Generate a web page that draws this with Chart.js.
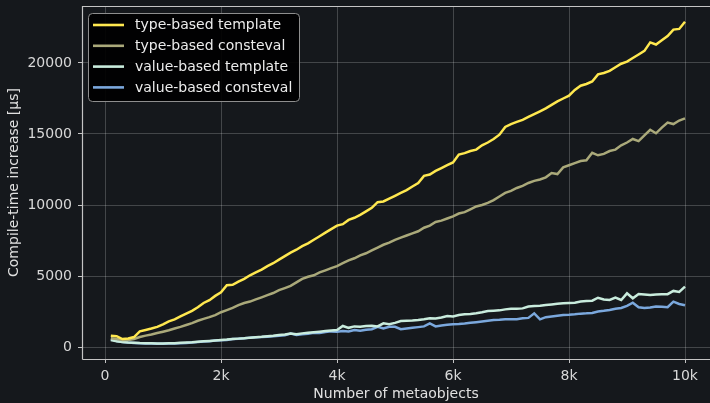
<!DOCTYPE html>
<html><head><meta charset="utf-8">
<script src="https://cdn.jsdelivr.net/npm/chart.js@4/dist/chart.umd.min.js"></script>
<style>html,body{margin:0;padding:0;background:#15181c;overflow:hidden}#wrap{width:710px;height:403px;position:relative}</style>
</head><body><div id="wrap"><canvas id="c" width="710" height="403"></canvas></div>
<script>
const metaobjects = [100,200,300,400,500,600,700,800,900,1000,1100,1200,1300,1400,1500,1600,1700,1800,1900,2000,
2100,2200,2300,2400,2500,2600,2700,2800,2900,3000,3100,3200,3300,3400,3500,3600,3700,3800,3900,4000,
4100,4200,4300,4400,4500,4600,4700,4800,4900,5000,5100,5200,5300,5400,5500,5600,5700,5800,5900,6000,
6100,6200,6300,6400,6500,6600,6700,6800,6900,7000,7100,7200,7300,7400,7500,7600,7700,7800,7900,8000,
8100,8200,8300,8400,8500,8600,8700,8800,8900,9000,9100,9200,9300,9400,9500,9600,9700,9800,9900,10000];

const typeTemplate = [800,760,560,600,700,1100,1200,1300,1420,1600,1800,1950,2150,2350,2550,2800,3100,3300,3600,3850,
4350,4380,4600,4800,5050,5250,5450,5700,5900,6150,6400,6650,6850,7100,7300,7550,7800,8050,8300,8550,
8650,8950,9100,9300,9550,9800,10200,10250,10450,10650,10850,11050,11300,11550,12050,12150,12400,12600,12800,13000,
13550,13650,13800,13900,14200,14400,14650,14950,15500,15700,15850,16000,16200,16400,16600,16800,17050,17300,17500,17700,
18100,18400,18520,18700,19200,19300,19450,19700,19950,20100,20350,20600,20850,21450,21300,21600,21900,22350,22400,22900];

const typeConsteval = [610,560,490,500,560,700,800,880,980,1080,1180,1300,1420,1550,1680,1850,1980,2100,2250,2450,
2600,2750,2950,3100,3200,3350,3500,3650,3800,4000,4150,4300,4550,4800,4950,5050,5250,5400,5550,5700,
5900,6100,6250,6450,6600,6800,7000,7200,7350,7550,7700,7850,8000,8150,8400,8550,8800,8900,9050,9200,
9400,9500,9700,9900,10000,10150,10350,10600,10850,11000,11200,11350,11550,11700,11800,11950,12250,12180,12650,12800,
12950,13100,13150,13680,13500,13600,13800,13900,14200,14400,14650,14500,14900,15300,15050,15450,15800,15700,15950,16100];

const valueTemplate = [490,400,350,320,300,280,270,260,250,250,260,270,300,320,340,370,400,430,460,490,
520,560,590,620,660,690,720,760,800,850,880,950,900,960,1000,1040,1080,1120,1160,1200,
1480,1350,1450,1420,1480,1500,1450,1670,1600,1700,1830,1850,1860,1900,1950,2020,2000,2080,2180,2150,
2250,2300,2320,2380,2450,2540,2560,2580,2650,2700,2700,2720,2850,2880,2900,2950,3000,3050,3080,3100,
3120,3200,3240,3260,3470,3350,3310,3480,3310,3780,3430,3730,3700,3660,3700,3720,3720,3950,3880,4250];

const valueConsteval = [560,420,350,310,290,270,250,240,230,230,240,250,270,290,320,350,380,410,450,480,
500,560,580,620,650,680,700,730,760,800,820,950,850,900,930,1000,980,1050,1100,1080,
1120,1100,1200,1150,1220,1250,1420,1300,1430,1420,1250,1300,1350,1400,1450,1660,1450,1520,1560,1600,
1620,1650,1700,1750,1800,1850,1900,1920,1950,1950,1960,2020,2050,2370,1950,2100,2150,2200,2250,2270,
2300,2350,2370,2400,2500,2550,2610,2700,2750,2900,3120,2800,2750,2780,2850,2840,2800,3190,3030,2940];

const seriesLabels = ['type-based template','type-based consteval','value-based template','value-based consteval'];
const xTickValues = [0,2000,4000,6000,8000,10000];
const xTickLabels = ['0','2k','4k','6k','8k','10k'];
const yTickValues = [0,5000,10000,15000,20000];
const yTickLabels = ['0','5000','10000','15000','20000'];

const colors = ['#ffe84f','#aaa97a','#c9ecdd','#7ba8dd'];
const allSeries = [typeTemplate,typeConsteval,valueTemplate,valueConsteval];

const FONT = '"DejaVu Sans", sans-serif';

const bgPlugin = {
  id:'bg',
  beforeDraw(chart){
    const ctx=chart.ctx; ctx.save(); ctx.fillStyle='#15181c';
    ctx.fillRect(0,0,chart.width,chart.height); ctx.restore();
  }
};
const spinePlugin = {
  id:'spines',
  afterDatasetsDraw(chart){
    const a=chart.chartArea, ctx=chart.ctx;
    ctx.save(); ctx.strokeStyle='#c4c4c4'; ctx.lineWidth=1.2;
    ctx.beginPath();
    ctx.moveTo(a.left+0.5,a.bottom+0.5); ctx.lineTo(a.left+0.5,a.top+0.5); ctx.lineTo(a.right+2,a.top+0.5);
    ctx.moveTo(a.left+0.5,a.bottom+0.5); ctx.lineTo(a.right+2,a.bottom+0.5);
    ctx.stroke(); ctx.restore();
  }
};
const legendPlugin = {
  id:'boxLegend',
  afterDraw(chart){
    const ctx=chart.ctx;
    const x0=88.5,y0=13.5,w=211,h=88;
    ctx.save();
    ctx.beginPath(); ctx.roundRect(x0,y0,w,h,4);
    ctx.fillStyle='rgba(0,0,0,0.92)'; ctx.fill();
    ctx.strokeStyle='#8e8e8e'; ctx.lineWidth=1; ctx.stroke();
    ctx.font='14px '+FONT; ctx.textBaseline='middle'; ctx.textAlign='left';
    chart.data.datasets.forEach((ds,i)=>{
      const cy=25+i*20.8;
      ctx.strokeStyle=ds.borderColor; ctx.lineWidth=2.6; ctx.lineCap='butt';
      ctx.beginPath(); ctx.moveTo(93,cy); ctx.lineTo(124,cy); ctx.stroke();
      ctx.fillStyle='#ececec'; ctx.fillText(ds.label,135,cy+0.5);
    });
    ctx.restore();
  }
};

new Chart(document.getElementById('c'), {
  type:'line',
  data:{
    datasets: allSeries.map((s,i)=>({
      label: seriesLabels[i],
      data: s.map((v,j)=>({x:metaobjects[j], y:v})),
      borderColor: colors[i],
      backgroundColor: colors[i],
      borderWidth: 2.5,
      pointRadius: 0,
      tension: 0,
      fill: false
    }))
  },
  options:{
    responsive:false, animation:false, devicePixelRatio:1,
    layout:{padding:{top:6,right:0,left:0,bottom:0}},
    plugins:{legend:{display:false}, tooltip:{enabled:false}},
    scales:{
      x:{
        type:'linear', min:-397, max:10431,
        afterBuildTicks(s){ s.ticks = xTickValues.map(v=>({value:v})); },
        afterFit(s){ s.height = 44; s.paddingLeft = 0; s.paddingRight = 0; },
        ticks:{ color:'#d8d8d8', font:{family:FONT,size:14}, padding:5, maxRotation:0,
          callback:(v)=>{ const k=xTickValues.indexOf(v); return k>=0?xTickLabels[k]:''; } },
        grid:{ color:'rgba(255,255,255,0.2)', lineWidth:1, drawTicks:true, tickLength:4, tickColor:'#c4c4c4' },
        border:{display:false},
        title:{display:true, text:'Number of metaobjects', color:'#e0e0e0', font:{family:FONT,size:14}, padding:{top:0,bottom:0}}
      },
      y:{
        type:'linear', min:-845, max:24014,
        afterBuildTicks(s){ s.ticks = yTickValues.map(v=>({value:v})); },
        afterFit(s){ s.width = 82; s.paddingTop = 0; s.paddingBottom = 0; },
        ticks:{ color:'#d8d8d8', font:{family:FONT,size:14}, padding:6,
          callback:(v)=>{ const k=yTickValues.indexOf(v); return k>=0?yTickLabels[k]:''; } },
        grid:{ color:'rgba(255,255,255,0.2)', lineWidth:1, drawTicks:true, tickLength:4, tickColor:'#c4c4c4' },
        border:{display:false},
        title:{display:true, text:'Compile-time increase [µs]', color:'#e0e0e0', font:{family:FONT,size:14}, padding:{top:6,bottom:0}}
      }
    }
  },
  plugins:[bgPlugin, spinePlugin, legendPlugin]
});
</script></body></html>
